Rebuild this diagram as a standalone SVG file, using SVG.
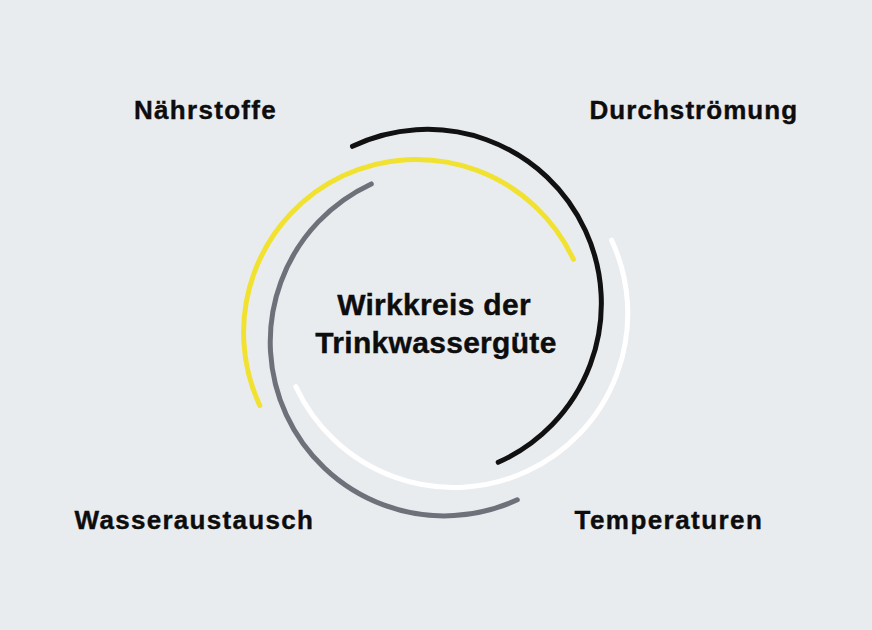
<svg xmlns="http://www.w3.org/2000/svg" width="872" height="630" viewBox="0 0 872 630">
  <style>
    .arc { fill: none; stroke-width: 5; stroke-linecap: round; }
    .lbl { font-family: "Liberation Sans", Arial, sans-serif; font-weight: bold; font-size: 26px; letter-spacing: 1.3px; fill: #0d0d0d; stroke: #0d0d0d; stroke-width: 0.4px; }
    .ctr { font-family: "Liberation Sans", Arial, sans-serif; font-weight: bold; font-size: 30px; letter-spacing: 0.3px; fill: #0d0d0d; stroke: #0d0d0d; stroke-width: 0.4px; text-anchor: middle; }
  </style>
  <rect x="0" y="0" width="872" height="630" fill="#e9ecef"/>
  <g id="connectors">
    <path id="arc-black" class="arc" stroke="#111111" d="M352.5 146.3 A174 174 0 1 1 498.2 462.3"/>
    <path id="arc-yellow" class="arc" stroke="#f1e232" d="M259.8 405.5 A173 173 0 1 1 573.4 259.3"/>
    <path id="arc-grey" class="arc" stroke="#6e7179" d="M517.3 499.8 A174 174 0 1 1 371.3 183.9"/>
    <path id="arc-white" class="arc" stroke="#ffffff" d="M611.6 240.2 A174 174 0 1 1 295.9 386.7"/>
  </g>
  <g id="center">
    <text class="ctr" x="434" y="315">Wirkkreis der</text>
    <text class="ctr" x="436" y="352.5">Trinkwassergüte</text>
  </g>
  <g id="naehrstoffe">
    <text class="lbl" x="134" y="119">Nährstoffe</text>
  </g>
  <g id="durchstroemung">
    <text class="lbl" x="589.5" y="119" style="letter-spacing:1.05px">Durchströmung</text>
  </g>
  <g id="wasseraustausch">
    <text class="lbl" x="74.5" y="529">Wasseraustausch</text>
  </g>
  <g id="temperaturen">
    <text class="lbl" x="574.5" y="529" style="letter-spacing:1.45px">Temperaturen</text>
  </g>
</svg>
